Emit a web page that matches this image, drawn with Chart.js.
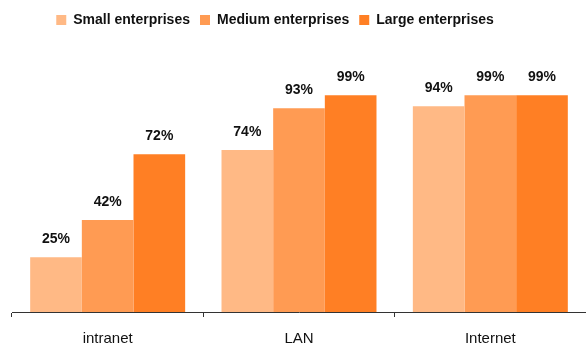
<!DOCTYPE html>
<html>
<head>
    <title>Network use by enterprise size</title>
    <script src="https://cdn.jsdelivr.net/npm/chart.js"></script>
    <style>
        body { margin: 0; background: #fff; }
        #chart-container { width: 586px; height: 344px; }
    </style>
</head>
<body>
    <div id="chart-container">
        <canvas id="netChart"></canvas>
    </div>
    <script>
        const categories = ['intranet', 'LAN', 'Internet'];
        const seriesNames = ['Small enterprises', 'Medium enterprises', 'Large enterprises'];
        const smallValues = [25, 74, 94];
        const mediumValues = [42, 93, 99];
        const largeValues = [72, 99, 99];
        const colors = ['#FFB985', '#FF9B53', '#FF7F24'];
        const fontFamily = '"Liberation Sans", Arial, sans-serif';

        // draws the value above each bar
        const barLabels = {
            id: 'barLabels',
            afterDatasetsDraw(chart) {
                const ctx = chart.ctx;
                ctx.save();
                ctx.font = 'bold 14px ' + fontFamily;
                ctx.fillStyle = '#111';
                ctx.textAlign = 'center';
                ctx.textBaseline = 'bottom';
                chart.data.datasets.forEach((ds, i) => {
                    chart.getDatasetMeta(i).data.forEach((bar, j) => {
                        ctx.fillText(ds.data[j] + '%', bar.x, bar.y - 11);
                    });
                });
                ctx.restore();
            }
        };

        // extra room under the legend, and nudge it a bit left
        const legendSpace = {
            id: 'legendSpace',
            beforeInit(chart) {
                const fit = chart.legend.fit;
                chart.legend.fit = function () {
                    fit.bind(chart.legend)();
                    this.height += 56;
                };
            },
            afterLayout(chart) {
                chart.legend.left -= 24;
                chart.legend.right -= 24;
            }
        };

        const ctx = document.getElementById('netChart').getContext('2d');
        new Chart(ctx, {
            type: 'bar',
            data: {
                labels: categories,
                datasets: [smallValues, mediumValues, largeValues].map((d, i) => ({
                    label: seriesNames[i],
                    data: d,
                    backgroundColor: colors[i],
                    barPercentage: 1,
                    categoryPercentage: 0.81
                }))
            },
            options: {
                responsive: true,
                maintainAspectRatio: false,
                animation: false,
                layout: { padding: { left: 12, right: 0, top: 3, bottom: 0 } },
                plugins: {
                    legend: {
                        position: 'top',
                        labels: {
                            boxWidth: 10,
                            boxHeight: 10,
                            padding: 10,
                            color: '#111',
                            font: { family: fontFamily, size: 14, weight: 'bold' }
                        }
                    },
                    tooltip: { enabled: false }
                },
                scales: {
                    x: {
                        afterFit(scale) { scale.height = 32; },
                        grid: {
                            offset: true,
                            drawOnChartArea: false,
                            drawTicks: true,
                            tickLength: 5,
                            color: '#333'
                        },
                        border: { color: '#333' },
                        ticks: {
                            color: '#111',
                            padding: 13,
                            font: { family: fontFamily, size: 15 }
                        }
                    },
                    y: {
                        display: false,
                        min: 0,
                        max: 100
                    }
                }
            },
            plugins: [barLabels, legendSpace]
        });
    </script>
</body>
</html>
